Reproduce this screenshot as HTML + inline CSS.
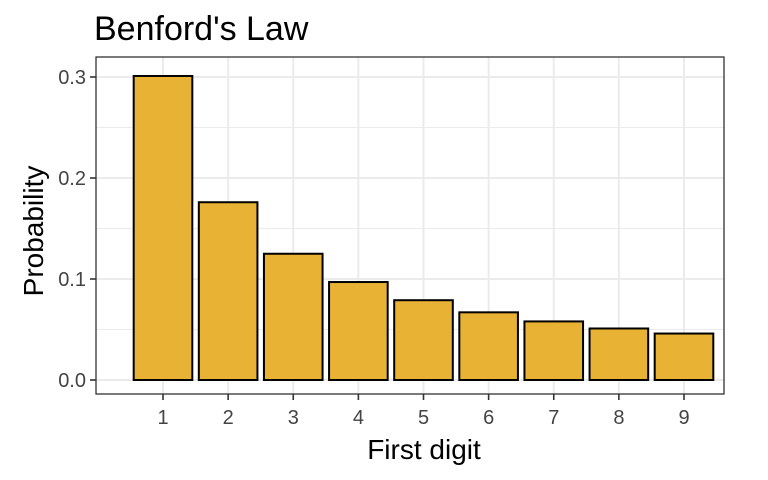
<!DOCTYPE html>
<html><head><meta charset="utf-8"><style>
body{margin:0;background:#fff;}
svg{display:block;font-family:"Liberation Sans",Arial,sans-serif;}
</style></head><body>
<svg id="chart" width="768" height="480">
<text x="94" y="40" font-size="34" fill="#000">Benford's Law</text>
<g id="grid"></g>
<g id="bars"></g>
<rect x="96" y="57" width="628" height="337" fill="none" stroke="#222" stroke-width="1.2"/>
<g id="axes"></g>
<text x="424" y="459" font-size="28" text-anchor="middle">First digit</text>
<text transform="translate(43,231) rotate(-90)" font-size="28" text-anchor="middle">Probability</text>
</svg>
<script>
const digits=[1,2,3,4,5,6,7,8,9];
const probs=[0.301,0.176,0.125,0.097,0.079,0.067,0.058,0.051,0.046];
const yTicks=[0,0.1,0.2,0.3];
const yTickLabels=["0.0","0.1","0.2","0.3"];
const yMinor=[0.05,0.15,0.25];
const NS="http://www.w3.org/2000/svg";
const X=d=>163+(d-1)*65.125;
const Y=v=>380-v*1010;
const bw=0.9*65.125;
const L=96,R=724,T=57,B=394;
function mk(t,a,p){const e=document.createElementNS(NS,t);for(const k in a)e.setAttribute(k,a[k]);p.appendChild(e);return e;}
const grid=document.getElementById('grid'),bars=document.getElementById('bars'),axes=document.getElementById('axes');
yMinor.forEach(v=>{const l=mk('line',{x1:L,x2:R,y1:Y(v),y2:Y(v),stroke:'#ebebeb','stroke-width':1},grid);

});
yTicks.forEach((v,i)=>{const l=mk('line',{x1:L,x2:R,y1:Y(v),y2:Y(v),stroke:'#ebebeb','stroke-width':2},grid);


const t=mk('line',{x1:L-6,x2:L,y1:Y(v),y2:Y(v),stroke:'#333','stroke-width':1.6},axes);


const tx=mk('text',{x:L-10,y:Y(v)+7,'font-size':20,fill:'#444','text-anchor':'end'},axes);
tx.textContent=yTickLabels[i];

});
digits.forEach((d,i)=>{const l=mk('line',{x1:X(d),x2:X(d),y1:T,y2:B,stroke:'#ebebeb','stroke-width':2},grid);


const r=mk('rect',{x:X(d)-bw/2,y:Y(probs[i]),width:bw,height:Y(0)-Y(probs[i]),fill:'#E8B335',stroke:'#000','stroke-width':2},bars);


const t=mk('line',{x1:X(d),x2:X(d),y1:B,y2:B+6,stroke:'#333','stroke-width':1.6},axes);


const tx=mk('text',{x:X(d),y:B+30,'font-size':20,fill:'#444','text-anchor':'middle'},axes);
tx.textContent=d;

});
</script>
</body></html>
